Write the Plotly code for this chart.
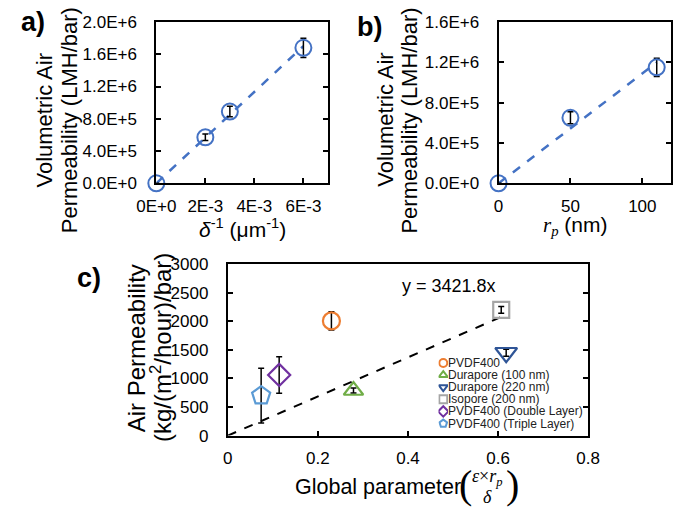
import plotly.graph_objects as go

W, H = 685, 514

# ---------------- data ----------------
# panel a
a_x = [0.0, 2e-3, 3e-3, 6e-3]
a_y = [0.0, 5.7e5, 8.9e5, 1.68e6]
a_err = [0.0, 0.4e5, 0.65e5, 1.2e5]
a_xtickvals = [0, 2e-3, 4e-3, 6e-3]
a_xticktext = ["0E+0", "2E-3", "4E-3", "6E-3"]
a_ytickvals = [0, 4e5, 8e5, 1.2e6, 1.6e6, 2.0e6]
a_yticktext = ["0.0E+0", "4.0E+5", "8.0E+5", "1.2E+6", "1.6E+6", "2.0E+6"]

# panel b
b_x = [0, 50, 110]
b_y = [0.0, 6.5e5, 1.15e6]
b_err = [0.0, 0.6e5, 0.9e5]
b_xtickvals = [0, 50, 100]
b_ytickvals = [0, 4e5, 8e5, 1.2e6, 1.6e6]
b_yticktext = ["0.0E+0", "4.0E+5", "8.0E+5", "1.2E+6", "1.6E+6"]

# panel c
c_names = ["PVDF400", "Durapore (100 nm)", "Durapore (220 nm)", "Isopore (200 nm)",
           "PVDF400 (Double Layer)", "PVDF400 (Triple Layer)"]
c_x = [0.230, 0.279, 0.618, 0.607, 0.114, 0.074]
c_y = [2008, 790, 1450, 2200, 1062, 700]
c_err = [160, 45, 60, 60, 320, 480]
c_symbols = ["circle-open", "triangle-up-open", "triangle-down-open", "square-open",
             "diamond-open", "pentagon-open"]
c_colors = ["#ED7D31", "#70AD47", "#2F5597", "#A5A5A5", "#7030A0", "#5B9BD5"]
c_sizes = [17, 17, 19, 16, 17, 19]
c_slope = 3421.8
c_xtickvals = [0, 0.2, 0.4, 0.6, 0.8]
c_ytickvals = [0, 500, 1000, 1500, 2000, 2500, 3000]

FONT = "Arial, Liberation Sans, sans-serif"
SERIF = "Liberation Serif, DejaVu Serif, serif"
BLUE = "#4472C4"


def fit_origin(xs, ys):
    num = sum(x * y for x, y in zip(xs, ys))
    den = sum(x * x for x in xs)
    return num / den


def px(x):
    return x / W


def py(y):
    return 1 - y / H


fig = go.Figure()

# ---- panel a ----
sa = fit_origin(a_x, a_y)
fig.add_trace(go.Scatter(x=[0, max(a_x)], y=[0, sa * max(a_x)], mode="lines",
                         line=dict(color=BLUE, width=2.5, dash="dash"),
                         xaxis="x", yaxis="y", showlegend=False, cliponaxis=False))
fig.add_trace(go.Scatter(x=a_x, y=a_y, mode="markers",
                         marker=dict(symbol="circle-open", size=16, color=BLUE, line=dict(width=2)),
                         error_y=dict(type="data", array=a_err, color="black", thickness=1.5, width=3),
                         xaxis="x", yaxis="y", showlegend=False, cliponaxis=False))

# ---- panel b ----
sb = fit_origin(b_x, b_y)
fig.add_trace(go.Scatter(x=[0, max(b_x)], y=[0, sb * max(b_x)], mode="lines",
                         line=dict(color=BLUE, width=2.5, dash="dash"),
                         xaxis="x2", yaxis="y2", showlegend=False, cliponaxis=False))
fig.add_trace(go.Scatter(x=b_x, y=b_y, mode="markers",
                         marker=dict(symbol="circle-open", size=16, color=BLUE, line=dict(width=2)),
                         error_y=dict(type="data", array=b_err, color="black", thickness=1.5, width=3),
                         xaxis="x2", yaxis="y2", showlegend=False, cliponaxis=False))

# ---- panel c ----
xmax_c = max(c_x[i] for i in range(len(c_x)) if "Isopore" in c_names[i])
fig.add_trace(go.Scatter(x=[0, xmax_c], y=[0, c_slope * xmax_c], mode="lines",
                         line=dict(color="black", width=2, dash="dash"),
                         xaxis="x3", yaxis="y3", showlegend=False))
for i in range(len(c_names)):
    fig.add_trace(go.Scatter(x=[c_x[i]], y=[c_y[i]], mode="markers", name=c_names[i],
                             marker=dict(symbol=c_symbols[i], size=c_sizes[i], color=c_colors[i],
                                         line=dict(width=2.2)),
                             error_y=dict(type="data", array=[c_err[i]], color="black",
                                          thickness=1.5, width=3),
                             xaxis="x3", yaxis="y3", showlegend=False, cliponaxis=False))

# legend symbols on a hidden helper axis
n = len(c_names)
fig.add_trace(go.Scatter(x=[0] * n, y=list(range(n)), mode="markers",
                         marker=dict(symbol=c_symbols, size=8, color=c_colors, line=dict(width=2)),
                         xaxis="x4", yaxis="y4", showlegend=False, hoverinfo="skip"))

leg_top, leg_step = 367.5, 12.6
leg_x_sym = 444
ax_common = dict(showline=True, linecolor="black", linewidth=2, ticks="inside", ticklen=5,
                 tickwidth=2, tickcolor="black", showgrid=False, zeroline=False,
                 tickfont=dict(family=FONT, size=17, color="black"))

fig.update_layout(
    width=W, height=H, margin=dict(l=0, r=0, t=0, b=0),
    paper_bgcolor="white", plot_bgcolor="white", font=dict(family=FONT, color="black"),
    hovermode=False,
    xaxis=dict(domain=[143 / W, 323 / W], range=[0, 7e-3], tickvals=a_xtickvals,
               ticktext=a_xticktext, mirror=True, anchor="y", ticklabelstandoff=6, **ax_common),
    yaxis=dict(domain=[py(181), py(13.5)], range=[0, 2.0e6], tickvals=a_ytickvals,
               ticktext=a_yticktext, mirror="ticks", anchor="x", ticklabelstandoff=14, **ax_common),
    xaxis2=dict(domain=[502 / W, 683 / W], range=[0, 120], tickvals=b_xtickvals,
                mirror=True, anchor="y2", ticklabelstandoff=6, **ax_common),
    yaxis2=dict(domain=[py(181), py(13.5)], range=[0, 1.6e6], tickvals=b_ytickvals,
                ticktext=b_yticktext, mirror="ticks", anchor="x2", ticklabelstandoff=14, **ax_common),
    xaxis3=dict(domain=[218 / W, 596 / W], range=[0, 0.8], tickvals=c_xtickvals,
                mirror=True, anchor="y3", ticklabelstandoff=6, **ax_common),
    yaxis3=dict(domain=[py(443), py(265)], range=[0, 3000], tickvals=c_ytickvals,
                mirror="ticks", anchor="x3", ticklabelstandoff=14, **ax_common),
    xaxis4=dict(domain=[(leg_x_sym - 5) / W, (leg_x_sym + 5) / W], range=[-1, 1],
                visible=False, anchor="y4", fixedrange=True),
    yaxis4=dict(domain=[py(leg_top + (n - 1) * leg_step + leg_step / 2),
                        py(leg_top - leg_step / 2)],
                range=[n - 0.5, -0.5], visible=False, anchor="x4", fixedrange=True),
)

ann = []


def text(x, y, s, size, angle=0, family=FONT, xanchor="center", bold=False, color="black"):
    if bold:
        s = "<b>" + s + "</b>"
    ann.append(dict(x=px(x), y=py(y), xref="paper", yref="paper", text=s, showarrow=False,
                    textangle=angle, xanchor=xanchor, yanchor="middle", borderpad=0,
                    font=dict(family=family, size=size, color=color)))


# panel labels
text(14, 14, "a)", 27, bold=True)
text(367, 19, "b)", 27, bold=True)
text(72, 279, "c)", 27, bold=True)

# panel a titles
text(26, 115, "Volumetric Air", 22, angle=-90)
text(52, 116, "Permeability (LMH/bar)", 22, angle=-90)
text(233, 227, "<i>δ</i><sup>-1</sup> (μm<sup>-1</sup>)", 21)

# panel b titles
text(384, 115, "Volumetric Air", 22, angle=-90)
text(409, 116, "Permeability (LMH/bar)", 22, angle=-90)
text(583, 225, "<span style='font-family:Liberation Serif'><i>r<sub>p</sub></i></span> (nm)", 21)

# panel c titles
text(123, 352, "Air Permeability", 24, angle=-90)
text(148, 352, "(kg/(m<sup>2</sup>/hour)/bar)", 24, angle=-90)
text(376, 496, "Global parameter", 21.5)
text(467, 494, "(", 40, family=SERIF)
text(517, 494, ")", 40, family=SERIF)
text(490, 486, "<i>ε</i>×<i>r<sub>p</sub></i>", 18, family=SERIF)
text(490, 507, "<i>δ</i>", 18, family=SERIF)
text(450, 288, "y = 3421.8x", 18)

# legend texts
for i, name in enumerate(c_names):
    text(448, leg_top + i * leg_step, name, 12, xanchor="left", color="#222222")

fig.update_layout(annotations=ann)
fig.write_html("out.html", config={"displayModeBar": False},
               post_script="document.body.style.margin='0';")
